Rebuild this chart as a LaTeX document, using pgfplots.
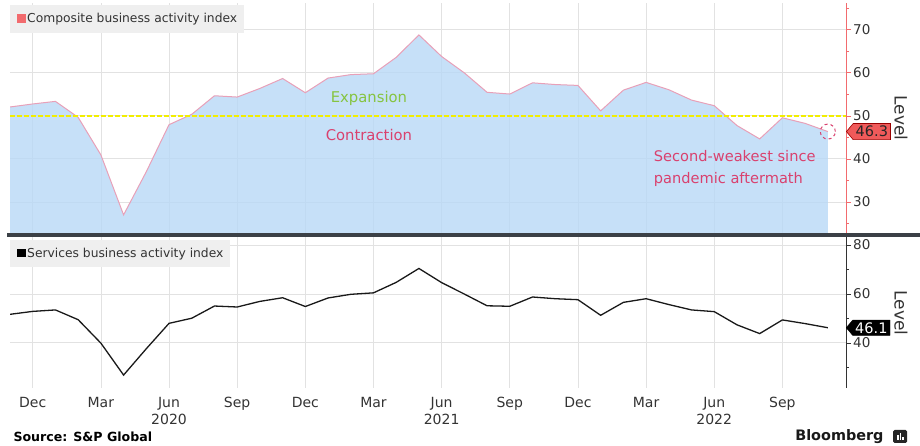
\documentclass[border=0pt]{standalone}
\usepackage{fontspec}
\setmainfont{DejaVu Sans}
\usepackage{pgfplots}
\pgfplotsset{compat=1.18}
\usepackage{pgfplotstable}
\usetikzlibrary{shapes.symbols}
\definecolor{areafill}{HTML}{B8D8F6}
\definecolor{arealine}{HTML}{E8A0B8}
\definecolor{redaxis}{HTML}{F26B6E}
\definecolor{expgreen}{HTML}{86C440}
\definecolor{contred}{HTML}{D9416E}
\definecolor{boxred}{HTML}{F05A5A}
\definecolor{legbg}{HTML}{EFEFEF}
\definecolor{sepc}{HTML}{3B4046}
\definecolor{gridc}{HTML}{E2E2E2}
\definecolor{txt}{HTML}{333333}
\definecolor{ylw}{HTML}{F2EE00}

\pgfplotstableread{
idx comp serv
0 52.0 51.6
1 52.7 52.8
2 53.3 53.4
3 49.6 49.4
4 40.9 39.8
5 27.0 26.7
6 37.0 37.5
7 47.9 47.9
8 50.3 50.0
9 54.6 55.0
10 54.3 54.6
11 56.3 56.9
12 58.6 58.4
13 55.3 54.8
14 58.7 58.3
15 59.5 59.8
16 59.7 60.4
17 63.5 64.7
18 68.7 70.4
19 63.7 64.6
20 59.9 59.9
21 55.4 55.1
22 55.0 54.9
23 57.6 58.7
24 57.2 58.0
25 57.0 57.6
26 51.1 51.2
27 55.9 56.5
28 57.7 58.0
29 56.0 55.6
30 53.6 53.4
31 52.3 52.7
32 47.7 47.3
33 44.6 43.7
34 49.5 49.3
35 48.2 47.8
36 46.3 46.1
}\pmidata

\pgfplotsset{bbg/.style={
  scale only axis, width=836bp, xmin=0, xmax=36.8,
  axis y line*=right, axis x line*=bottom,
  x axis line style={draw=none},
  xtick={1,4,...,34}, xtick style={draw=none},
  xmajorgrids, ymajorgrids,
  grid style={gridc, line width=0.6bp},
  tick align=outside, major tick length=5bp, minor tick length=3bp,
  /pgf/number format/assume math mode=true,
  yticklabel style={font=\fontsize{13.5bp}{15bp}\selectfont, text=txt, inner sep=2bp},
  clip mode=individual,
}}

\begin{document}
\begin{tikzpicture}[x=1bp,y=1bp]
\path[use as bounding box] (0,0) rectangle (920,446);

% Top panel
\begin{axis}[bbg, anchor=south west, at={(10bp,213bp)}, height=230bp,
  ymin=22.8, ymax=76.1, ytick={30,40,...,70}, minor ytick={25,35,...,75},
  xticklabels={},
  y axis line style={redaxis, line width=1bp},
  ytick style={redaxis}]
\addplot[draw=none, fill=areafill, fill opacity=0.8] table[x=idx,y=comp]{\pmidata} \closedcycle;
\addplot[arealine, line width=1bp] table[x=idx,y=comp]{\pmidata};
\addplot[ylw, line width=1.8bp, dash pattern=on 5bp off 2bp] coordinates {(0,50) (36.8,50)};
\node[text=expgreen, font=\fontsize{14.8bp}{16bp}\selectfont] at (axis cs:15.8,53.9) {Expansion};
\node[text=contred, font=\fontsize{14.8bp}{16bp}\selectfont] at (axis cs:15.8,45.4) {Contraction};
\node[text=contred, font=\fontsize{14.6bp}{22bp}\selectfont, align=left] at (axis cs:31.9,37.7) {Second-weakest since\\pandemic aftermath};
\draw[contred, dashed, line width=1bp] (axis cs:36,46.3) circle (7.5bp);
\node[signal, signal to=west, signal pointer angle=100, fill=boxred, draw=red!60!black, line width=0.6bp,
  inner xsep=2.5bp, inner ysep=2.6bp, text=black!85, anchor=west,
  font=\fontsize{14.5bp}{15bp}\selectfont] at (axis cs:36.8,46.3) {46.3};
\end{axis}

% Bottom panel
\begin{axis}[bbg, anchor=south west, at={(10bp,58bp)}, height=151bp,
  ymin=21.4, ymax=83.3, ytick={40,60,80}, minor ytick={30,50,70},
  xticklabels={Dec,Mar,{Jun\\2020},Sep,Dec,Mar,{Jun\\2021},Sep,Dec,Mar,{Jun\\2022},Sep},
  xticklabel style={align=center, font=\fontsize{14bp}{17bp}\selectfont, text=txt, anchor=north, inner sep=0pt, yshift=-4bp},
  y axis line style={black!80, line width=1bp},
  ytick style={black!80}]
\addplot[black!90, line width=1.3bp] table[x=idx,y=serv]{\pmidata};
\node[signal, signal to=west, signal pointer angle=100, fill=black, draw=black,
  inner xsep=2.5bp, inner ysep=2.2bp, text=white, anchor=west,
  font=\fontsize{14.5bp}{15bp}\selectfont] at (axis cs:36.8,46.1) {46.1};
\end{axis}

% separator
\fill[sepc] (7,208.7) rectangle (920,212.7);

% legend boxes
\node[anchor=north west, fill=legbg, inner xsep=7bp, inner ysep=0pt, minimum height=28bp,
  font=\fontsize{12.3bp}{14bp}\selectfont, text=txt] at (10,441)
  {{\color{redaxis}\rule{8.5bp}{8.5bp}}\hspace{1.5bp}Composite business activity index};
\node[anchor=north west, fill=legbg, inner xsep=7bp, inner ysep=0pt, minimum height=27bp,
  font=\fontsize{12.3bp}{14bp}\selectfont, text=txt] at (10,206)
  {{\color{black}\rule{8.5bp}{8.5bp}}\hspace{1.5bp}Services business activity index};

% Level labels
\node[rotate=-90, font=\fontsize{17bp}{18bp}\selectfont, text=txt] at (901,328) {Level};
\node[rotate=-90, font=\fontsize{17bp}{18bp}\selectfont, text=txt] at (901,133) {Level};

% footer
\node[anchor=west, font=\bfseries\fontsize{12.6bp}{14bp}\selectfont, text=black] at (10,9) {Source: S\&P Global};
\node[anchor=east, font=\bfseries\fontsize{14.4bp}{16bp}\selectfont, text=black!90] at (887,9) {Bloomberg};
\fill[black!85, rounded corners=1.5bp] (893,3) rectangle (907,16);
\fill[white] (897,6) rectangle (898.5,11);
\fill[white] (899.5,6) rectangle (901,13);
\fill[white] (902,6) rectangle (903.5,9);
\end{tikzpicture}
\end{document}
